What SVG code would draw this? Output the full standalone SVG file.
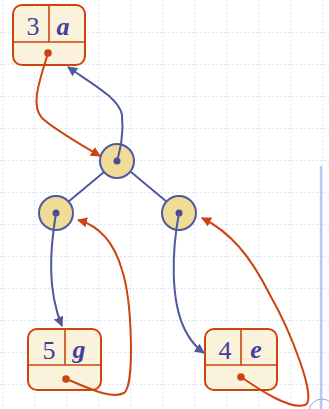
<svg xmlns="http://www.w3.org/2000/svg" width="329" height="409" viewBox="0 0 329 409">
<style>
.grid line{stroke:#dfe5f8;stroke-width:1;stroke-dasharray:2 2}
.box{fill:#fbf2dc;stroke:#cc4410;stroke-width:2}
.div{stroke:#cc4410;stroke-width:1.6;fill:none}
.dotO{fill:#cc4410}
.num{font-family:"Liberation Serif",serif;font-size:26px;fill:#40409a;text-anchor:middle}
.let{font-family:"Liberation Serif",serif;font-size:26px;font-weight:bold;font-style:italic;fill:#40409a;text-anchor:middle}
.circ{fill:#f0dc96;stroke:#5058a0;stroke-width:2}
.dotB{fill:#4a4a90}
.edge{stroke:#5058a0;stroke-width:2}
.ob{fill:none;stroke:#cc4410;stroke-width:2}
.bb{fill:none;stroke:#5058a0;stroke-width:2}
</style>
<defs>
<marker id="ao" viewBox="0 0 10 10" refX="9" refY="5" markerWidth="5" markerHeight="5" orient="auto" markerUnits="strokeWidth"><path d="M0,0 L10,5 L0,10 z" fill="#cc4410"/></marker>
<marker id="ab" viewBox="0 0 10 10" refX="9" refY="5" markerWidth="5" markerHeight="5" orient="auto" markerUnits="strokeWidth"><path d="M0,0 L10,5 L0,10 z" fill="#5058a0"/></marker>
</defs>
<rect width="329" height="409" fill="#ffffff"/>
<g class="grid">
<line x1="2.5" y1="0" x2="2.5" y2="409"/><line x1="34.5" y1="0" x2="34.5" y2="409"/><line x1="66.5" y1="0" x2="66.5" y2="409"/><line x1="98.5" y1="0" x2="98.5" y2="409"/><line x1="130.5" y1="0" x2="130.5" y2="409"/><line x1="162.5" y1="0" x2="162.5" y2="409"/><line x1="194.5" y1="0" x2="194.5" y2="409"/><line x1="226.5" y1="0" x2="226.5" y2="409"/><line x1="258.5" y1="0" x2="258.5" y2="409"/><line x1="290.5" y1="0" x2="290.5" y2="409"/><line x1="322.5" y1="0" x2="322.5" y2="409"/>
<line x1="0" y1="32.5" x2="329" y2="32.5"/><line x1="0" y1="64.5" x2="329" y2="64.5"/><line x1="0" y1="96.5" x2="329" y2="96.5"/><line x1="0" y1="128.5" x2="329" y2="128.5"/><line x1="0" y1="160.5" x2="329" y2="160.5"/><line x1="0" y1="192.5" x2="329" y2="192.5"/><line x1="0" y1="224.5" x2="329" y2="224.5"/><line x1="0" y1="256.5" x2="329" y2="256.5"/><line x1="0" y1="288.5" x2="329" y2="288.5"/><line x1="0" y1="320.5" x2="329" y2="320.5"/><line x1="0" y1="352.5" x2="329" y2="352.5"/><line x1="0" y1="384.5" x2="329" y2="384.5"/>
</g>
<line x1="321" y1="166" x2="321" y2="409" stroke="#b8c8f8" stroke-width="2.5"/>
<circle cx="322" cy="412" r="13" fill="none" stroke="#8ea6f0" stroke-width="1"/>
<g id="tree-edges">
<line class="edge" x1="104" y1="172" x2="68" y2="202"/>
<line class="edge" x1="131" y1="172" x2="167" y2="202"/>
</g>
<g id="node-root"><circle class="circ" cx="117" cy="161" r="17"/><circle class="dotB" cx="117" cy="161" r="3.5"/></g>
<g id="node-left"><circle class="circ" cx="56" cy="213" r="17"/><circle class="dotB" cx="56" cy="213" r="3.5"/></g>
<g id="node-right"><circle class="circ" cx="179" cy="213" r="17"/><circle class="dotB" cx="179" cy="213" r="3.5"/></g>
<g id="box-3a">
<rect class="box" x="13" y="5" width="72" height="60" rx="9"/>
<line class="div" x1="13" y1="42" x2="85" y2="42"/><line class="div" x1="49" y1="5" x2="49" y2="42"/>
<text class="num" x="33" y="35">3</text><text class="let" x="63" y="35">a</text>
<circle class="dotO" cx="48" cy="53" r="3.8"/>
</g>
<g id="box-5g">
<rect class="box" x="28" y="329" width="73" height="61" rx="9"/>
<line class="div" x1="28" y1="365" x2="101" y2="365"/><line class="div" x1="65" y1="329" x2="65" y2="365"/>
<text class="num" x="49" y="359">5</text><text class="let" x="79" y="358">g</text>
<circle class="dotO" cx="66" cy="379" r="3.8"/>
</g>
<g id="box-4e">
<rect class="box" x="205" y="329" width="72" height="61" rx="9"/>
<line class="div" x1="205" y1="365" x2="277" y2="365"/><line class="div" x1="241" y1="329" x2="241" y2="365"/>
<text class="num" x="225" y="359">4</text><text class="let" x="256" y="358">e</text>
<circle class="dotO" cx="241" cy="377" r="3.8"/>
</g>
<g id="connectors">
<path class="bb" marker-end="url(#ab)" d="M117,161 C120,150 124,135 122,115 C119,98 92,84 68,67"/>
<path class="ob" marker-end="url(#ao)" d="M48,53 C40,80 30,105 42,118 C55,130 80,144 100,156"/>
<path class="bb" marker-end="url(#ab)" d="M56,213 C50,250 47,290 62,326"/>
<path class="ob" marker-end="url(#ao)" d="M66,379 C85,386 110,400 124,393 C135,386 132,300 122,270 C114,242 100,226 78,220"/>
<path class="bb" marker-end="url(#ab)" d="M179,213 C172,250 170,300 185,330 C190,340 197,348 204,353"/>
<path class="ob" marker-end="url(#ao)" d="M241,377 C260,390 290,410 305,405 C318,400 290,330 270,295 C250,255 230,232 202,218"/>
</g>
</svg>
